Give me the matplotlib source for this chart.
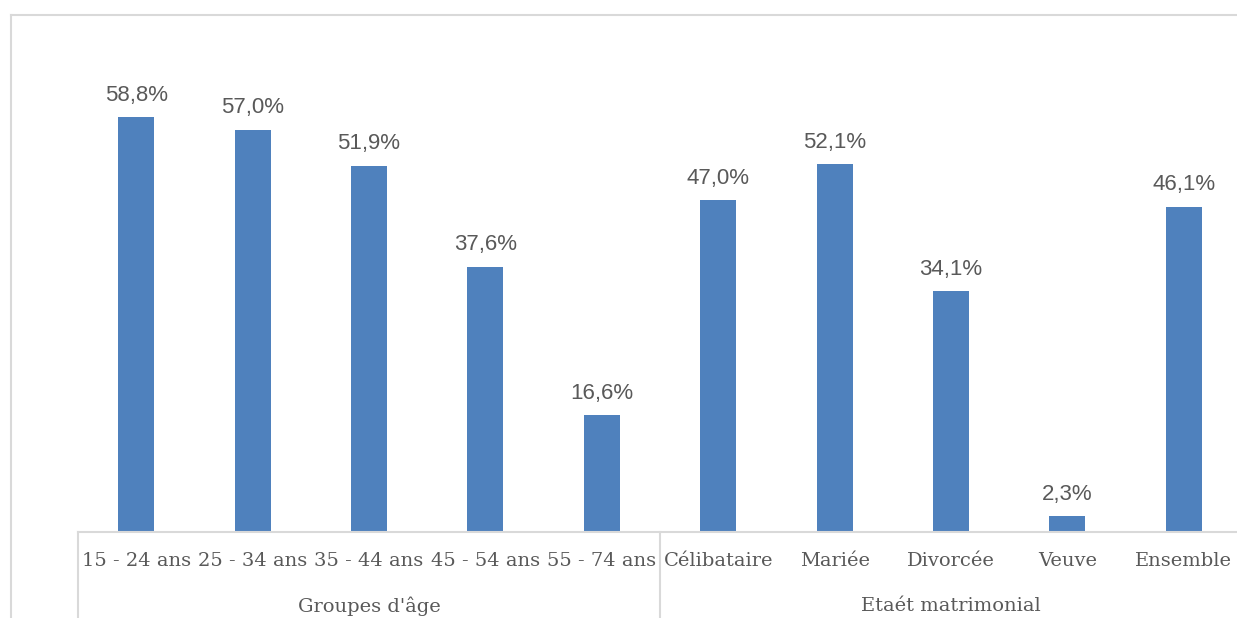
import matplotlib.pyplot as plt
import matplotlib.lines as mlines

# data
categories = ['15 - 24 ans', '25 - 34 ans', '35 - 44 ans', '45 - 54 ans', '55 - 74 ans',
              'Célibataire', 'Mariée', 'Divorcée', 'Veuve', 'Ensemble']
values = [58.8, 57.0, 51.9, 37.6, 16.6, 47.0, 52.1, 34.1, 2.3, 46.1]
groups = ["Groupes d'âge", 'Etaét matrimonial']
group_sizes = [5, 5]

W, H = 1237, 618
bar_color = '#4f81bd'
text_color = '#595959'
line_color = '#d9d9d9'
font = 'DejaVu Serif'
label_font = 'Liberation Sans'

fig = plt.figure(figsize=(W / 100, H / 100), dpi=100)

# axes: baseline at y=532 px, one category = 116.4 px starting at x=78
x0, base = 78, 532
cat_w = 116.4
px_per_pct = 7.06
ymax = 65
ax = fig.add_axes([x0 / W, (H - base) / H, cat_w * len(categories) / W, ymax * px_per_pct / H])
ax.set_xlim(0, len(categories))
ax.set_ylim(0, ymax)
ax.axis('off')

xs = [i + 0.5 for i in range(len(categories))]
ax.bar(xs, values, width=36 / cat_w, color=bar_color, zorder=2)
for x, v in zip(xs, values):
    ax.annotate(f'{v:.1f}%'.replace('.', ','), (x, v), xytext=(0, 8), textcoords='offset points',
                ha='center', va='bottom', fontsize=16, color=text_color, family=label_font)

# category labels
for x, c in zip(xs, categories):
    ax.text(x, -29 / px_per_pct, c, ha='center', va='center', fontsize=14,
            color=text_color, family=font, clip_on=False)

# group labels and separators
start = 0
for g, n in zip(groups, group_sizes):
    ax.text(start + n / 2, -74 / px_per_pct, g, ha='center', va='center', fontsize=14,
            color=text_color, family=font, clip_on=False)
    start += n

def fx(px):
    return px / W

def fy(py):
    return 1 - py / H

# axis line and group separators
fig.add_artist(mlines.Line2D([fx(x0), 1], [fy(base), fy(base)], color=line_color, lw=1.5))
for sx in [x0, x0 + 5 * cat_w]:
    fig.add_artist(mlines.Line2D([fx(sx), fx(sx)], [fy(base), 0], color=line_color, lw=1.5))

# chart border (top and left)
fig.add_artist(mlines.Line2D([fx(11), 1], [fy(15), fy(15)], color=line_color, lw=1.5))
fig.add_artist(mlines.Line2D([fx(11), fx(11)], [fy(15), 0], color=line_color, lw=1.5))

fig.savefig('out.png', dpi=100)
